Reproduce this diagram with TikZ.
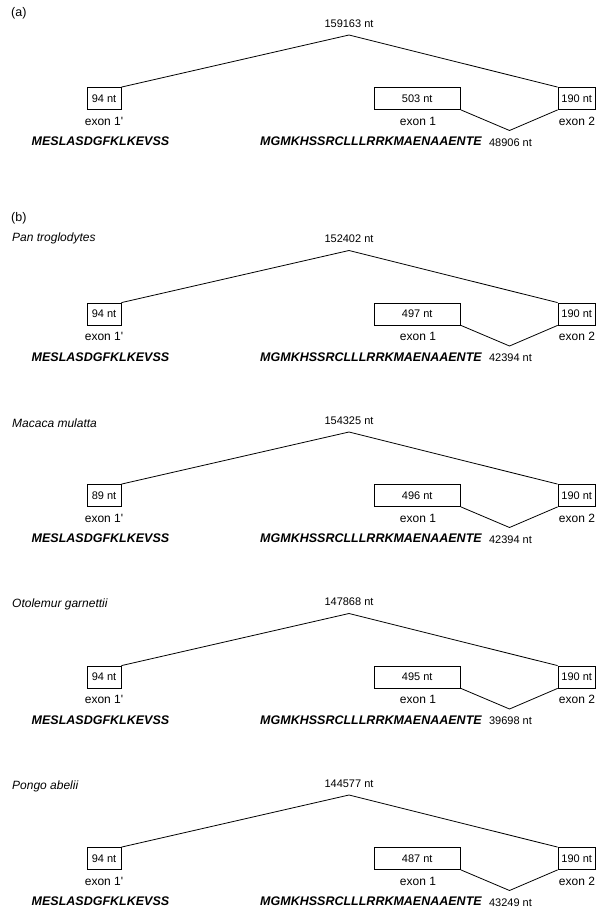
\documentclass[tikz,border=0pt]{standalone}
\usepackage{fontspec}
\setmainfont{Liberation Sans}
\newcommand\gpanel[9]{%
% #1 prefix, #2 box top y, #3 exon1' len, #4 exon1 len, #5 long intron, #6 short intron
\begin{scope}[yshift=-#2pt]
  \node[exbox, minimum width=34pt] (#1L) at (104,11) {#3 nt};
  \node[exbox, minimum width=86.5pt] (#1E1) at (417.25,11) {#4 nt};
  \node[exbox, minimum width=37.5pt] (#1E2) at (576.75,11) {190 nt};
  \node[lab] (#1Llab) at (104,33.5) {exon 1\textquotesingle};
  \node[lab] (#1E1lab) at (418,33.5) {exon 1};
  \node[lab] (#1E2lab) at (577,33.5) {exon 2};
  \node[seq] (#1s1) at (100.5,54) {MESLASDGFKLKEVSS};
  \node[seq] (#1s2) at (371,54) {MGMKHSSRCLLLRRKMAENAAENTE};
  \coordinate (#1peak) at (349,-52.5);
  \coordinate (#1vee) at (509.5,43);
  \node[num] (#1peaklab) at (349,-64) {#5 nt};
  \node[num] (#1veelab) at (510.5,55) {#6 nt};
  \draw[conn] (#1L.north east) -- (#1peak) -- (#1E2.north west);
  \draw[conn] (#1E1.south east) -- (#1vee) -- (#1E2.south west);
\end{scope}}
\begin{document}
\begin{tikzpicture}[x=1pt,y=-1pt,
  exbox/.style={draw, line width=0.8pt, minimum height=22pt, inner sep=0pt, font=\fontsize{11}{13}\selectfont},
  num/.style={inner sep=0pt, font=\fontsize{11}{13}\selectfont},
  lab/.style={inner sep=0pt, font=\fontsize{12}{14}\selectfont},
  seq/.style={inner sep=0pt, font=\fontsize{12.5}{14}\selectfont\bfseries\itshape},
  spec/.style={inner sep=0pt, anchor=west, font=\fontsize{12}{14}\selectfont\itshape},
  conn/.style={line width=0.8pt}]
\useasboundingbox (0,0) rectangle (612,911);
\node[inner sep=0pt, anchor=west, font=\fontsize{12.5}{14}\selectfont] (lblA) at (11,13) {(a)};
\node[inner sep=0pt, anchor=west, font=\fontsize{12.5}{14}\selectfont] (lblB) at (11,218) {(b)};
\gpanel{a}{87.5}{94}{503}{159163}{48906}{}{}{}
\node[spec] (spPan) at (12,238) {Pan troglodytes};
\gpanel{p}{303}{94}{497}{152402}{42394}{}{}{}
\node[spec] (spMac) at (12,423) {Macaca mulatta};
\gpanel{m}{484.5}{89}{496}{154325}{42394}{}{}{}
\node[spec] (spOto) at (12,604.5) {Otolemur garnettii};
\gpanel{o}{666}{94}{495}{147868}{39698}{}{}{}
\node[spec] (spPon) at (12,786.5) {Pongo abelii};
\gpanel{g}{847.5}{94}{487}{144577}{43249}{}{}{}
\end{tikzpicture}
\end{document}
